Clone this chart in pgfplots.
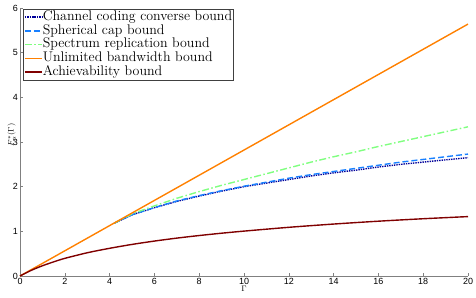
\documentclass[border=0pt]{standalone}
\usepackage{fontspec}
\setsansfont{Liberation Sans}
\usepackage{pgfplots}
\pgfplotsset{compat=1.18}
\definecolor{cdot}{rgb}{0.0,0.0,0.6}
\definecolor{ccap}{rgb}{0.1,0.5,1.0}
\definecolor{crep}{rgb}{0.5,1.0,0.5}
\definecolor{cunl}{rgb}{1.0,0.5,0.0}
\definecolor{cach}{rgb}{0.5,0.0,0.0}
\definecolor{axgray}{rgb}{0.5,0.5,0.5}
\definecolor{legframe}{rgb}{0.25,0.25,0.25}
\begin{document}
\begin{tikzpicture}
\begin{axis}[
  at={(0,0)}, anchor=south west,
  scale only axis, width=448bp, height=268bp,
  xmin=0, xmax=20, ymin=0, ymax=6,
  axis x line*=bottom, axis y line*=left,
  axis line style={axgray, line width=0.6pt},
  tick style={axgray, line width=0.6pt},
  tick align=inside, major tick length=3bp,
  xtick={0,2,...,20}, ytick={0,1,...,6},
  ticklabel style={font=\sffamily\fontsize{9}{9}\selectfont, black},
  /pgf/number format/assume math mode=true,
  xticklabel style={inner sep=1pt, yshift=-1pt},
  yticklabel style={inner sep=1pt, xshift=-1pt},
  xlabel={$\Gamma$},
  ylabel={$F_{\alpha}^{*}(\Gamma)$},
  label style={font=\fontsize{8}{8}\selectfont},
  xlabel style={inner sep=0pt, yshift=-0.5pt},
  ylabel style={inner sep=0pt, yshift=-4pt, xshift=7bp},
  legend style={at={(3bp,267bp)}, anchor=north west, draw=legframe, fill=white,
    font=\addfontfeatures{LetterSpace=8}\fontsize{14}{13}\selectfont, inner sep=1pt, row sep=0pt,
    nodes={text height=10pt, text depth=3.4pt, inner sep=0.2pt}},
  legend image post style={line width=1.4pt},
  legend cell align=left,
  clip=false,
]
\addplot[cdot, line width=1.4pt, densely dotted] coordinates {
(4.2,1.18) (5,1.37) (6,1.53) (7,1.67) (8,1.79) (9,1.90) (10,2.00) (11,2.08) (12,2.16) (13,2.24) (14,2.31) (15,2.37) (16,2.44) (17,2.50) (18,2.55) (19,2.60) (20,2.65)};
\addlegendentry{Channel coding converse bound}
\addplot[ccap, line width=1.4pt, dash pattern=on 6pt off 3pt] coordinates {
(4.2,1.18) (5,1.37) (6,1.53) (7,1.68) (8,1.80) (9,1.91) (10,2.01) (11,2.10) (12,2.19) (13,2.27) (14,2.34) (15,2.41) (16,2.48) (17,2.55) (18,2.61) (19,2.67) (20,2.73)};
\addlegendentry{Spherical cap bound}
\addplot[crep, line width=1.4pt, dash pattern=on 7pt off 2.5pt on 1.5pt off 2.5pt] coordinates {
(4.2,1.18) (5,1.39) (6,1.57) (7,1.74) (8,1.89) (9,2.03) (10,2.16) (11,2.29) (12,2.42) (13,2.55) (14,2.67) (15,2.78) (16,2.90) (17,3.01) (18,3.12) (19,3.23) (20,3.34)};
\addlegendentry{Spectrum replication bound}
\addplot[cunl, line width=1.4pt] coordinates {
(0,0) (20,5.64)};
\addlegendentry{Unlimited bandwidth bound}
\addplot[cach, line width=1.4pt, smooth] coordinates {
(0,0) (0.5,0.126) (1,0.229) (1.5,0.316) (2,0.395) (3,0.52) (4,0.62) (5,0.707) (6,0.782) (7,0.848) (8,0.906) (9,0.958) (10,1.005) (12,1.09) (14,1.163) (16,1.227) (18,1.282) (20,1.33)};
\addlegendentry{Achievability bound}
\end{axis}
\pgfresetboundingbox
\path (-20bp,-22bp) rectangle (456bp,276bp);
\end{tikzpicture}
\end{document}
